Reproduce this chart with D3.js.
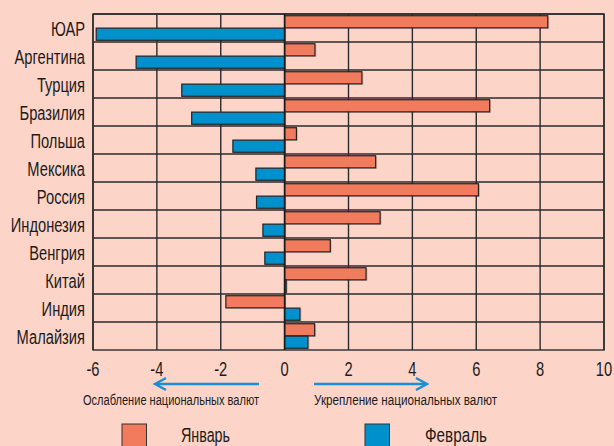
<!DOCTYPE html>
<html>
<head>
<meta charset="utf-8">
<script src="https://cdn.jsdelivr.net/npm/d3@7"></script>
<style>
  html, body { margin: 0; padding: 0; background: #fdd4c8; }
  svg { display: block; }
  text { font-family: "Liberation Sans", Arial, sans-serif; fill: #1c1c1c; }
</style>
</head>
<body>
<svg id="chart" width="614" height="446"></svg>
<script>
// Currency change by country, %
const countries = ["ЮАР", "Аргентина", "Турция", "Бразилия", "Польша", "Мексика",
                   "Россия", "Индонезия", "Венгрия", "Китай", "Индия", "Малайзия"];
const january  = [8.24, 0.95, 2.42, 6.42, 0.37, 2.85, 6.07, 2.99, 1.43, 2.55, -1.84, 0.94];
const february = [-5.9, -4.65, -3.22, -2.91, -1.62, -0.9, -0.88, -0.68, -0.62, 0.05, 0.48, 0.73];
const xTicks = [-6, -4, -2, 0, 2, 4, 6, 8, 10];
const seriesNames = ["Январь", "Февраль"];
const seriesColors = ["#f27b5e", "#0090cc"];

const svg = d3.select("#chart");
const plot = { left: 93, right: 604, top: 14, bottom: 350 };
const narrow = 0.7; // horizontal squeeze for a condensed look

const x = d3.scaleLinear().domain([-6, 10]).range([plot.left, plot.right]);
const y = d3.scaleBand().domain(countries).range([plot.top, plot.bottom]);
const inner = d3.scaleBand().domain([0, 1]).range([0, y.bandwidth()]).paddingOuter(0.14).paddingInner(0.02);

// condensed text helper: anchor at (tx, ty), squeeze horizontally
function label(sel, tx, ty) {
  return sel.attr("transform", (d, i) => `translate(${tx(d, i)},${ty(d, i)}) scale(${narrow},1)`);
}

// plot frame and grid
const grid = svg.append("g").attr("stroke", "#2b2b2b").attr("stroke-width", 1.4).attr("fill", "none");
grid.selectAll("line.v").data(xTicks).join("line")
  .attr("x1", d => x(d)).attr("x2", d => x(d))
  .attr("y1", plot.top).attr("y2", plot.bottom);
grid.selectAll("line.h").data(countries).join("line")
  .attr("x1", plot.left).attr("x2", plot.right)
  .attr("y1", d => y(d)).attr("y2", d => y(d));
grid.append("rect").attr("x", plot.left).attr("y", plot.top)
  .attr("width", plot.right - plot.left).attr("height", plot.bottom - plot.top);

// bars
const rows = countries.map((c, i) => ({ c, vals: [january[i], february[i]] }));
const barG = svg.append("g");
rows.forEach(r => {
  r.vals.forEach((v, s) => {
    const x0 = Math.min(x(0), x(v)), w = Math.max(Math.abs(x(v) - x(0)), 1.5);
    const yy = y(r.c) + inner(s), h = inner.bandwidth();
    barG.append("rect").attr("x", x0 + 1.5).attr("y", yy + 1).attr("width", w).attr("height", h)
      .attr("fill", "#000").attr("opacity", 0.15);
    barG.append("rect").attr("x", x0).attr("y", yy).attr("width", w).attr("height", h)
      .attr("fill", seriesColors[s]).attr("stroke", "#222").attr("stroke-width", 1.2);
  });
});
// zero line on top
svg.append("line").attr("x1", x(0)).attr("x2", x(0)).attr("y1", plot.top).attr("y2", plot.bottom)
  .attr("stroke", "#1a1a1a").attr("stroke-width", 1.6);

// category labels
label(svg.append("g").selectAll("text").data(countries).join("text"),
      () => 85, d => y(d) + y.bandwidth() / 2 + 8)
  .attr("text-anchor", "end").attr("font-size", 21).text(d => d);

// x axis labels
label(svg.append("g").selectAll("text").data(xTicks).join("text"),
      d => x(d), () => 376)
  .attr("text-anchor", "middle").attr("font-size", 21).text(d => d);

// direction arrows
const arrowColor = "#1b8fd2";
const arrows = [
  { from: 259, to: 155 },
  { from: 314, to: 427 }
];
arrows.forEach(a => {
  const dir = Math.sign(a.to - a.from);
  svg.append("line").attr("x1", a.from).attr("x2", a.to - dir * 1).attr("y1", 384).attr("y2", 384)
    .attr("stroke", arrowColor).attr("stroke-width", 2.4);
  svg.append("path")
    .attr("d", `M${a.to - dir * 11},${378} L${a.to},${384} L${a.to - dir * 11},${390}`)
    .attr("fill", "none").attr("stroke", arrowColor).attr("stroke-width", 2.4);
});

// annotation captions, fitted to their spans
const captions = [
  { text: "Ослабление национальных валют", x0: 83, x1: 259 },
  { text: "Укрепление национальных валют", x0: 314, x1: 497 }
];
svg.append("g").selectAll("text").data(captions).join("text")
  .attr("x", d => d.x0).attr("y", 405).attr("font-size", 15.5)
  .attr("textLength", d => d.x1 - d.x0).attr("lengthAdjust", "spacingAndGlyphs")
  .text(d => d.text);

// legend
const legend = [
  { sq: 122, tx: 181, tw: 49 },
  { sq: 365, tx: 425, tw: 62 }
];
legend.forEach((l, i) => {
  svg.append("rect").attr("x", l.sq).attr("y", 424).attr("width", 24.5).attr("height", 26)
    .attr("fill", seriesColors[i]).attr("stroke", "#333").attr("stroke-width", 1);
  svg.append("text").attr("x", l.tx).attr("y", 441.5).attr("font-size", 20.5)
    .attr("textLength", l.tw).attr("lengthAdjust", "spacingAndGlyphs")
    .text(seriesNames[i]);
});
</script>
</body>
</html>
